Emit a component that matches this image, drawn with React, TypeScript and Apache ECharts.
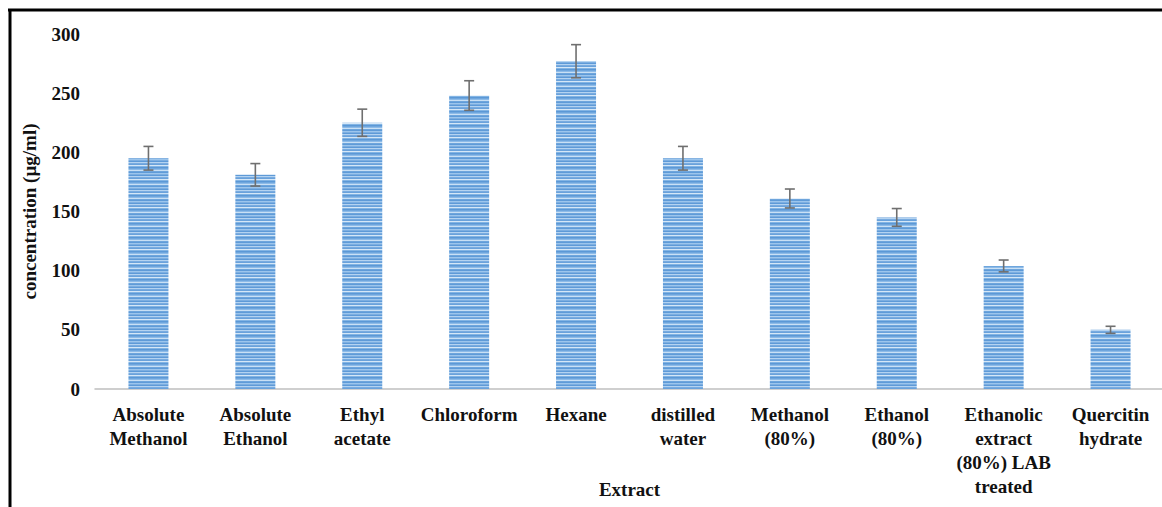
import React, { useEffect, useRef } from "react";
import * as echarts from "echarts";

const categories = [
  "Absolute\nMethanol",
  "Absolute\nEthanol",
  "Ethyl\nacetate",
  "Chloroform",
  "Hexane",
  "distilled\nwater",
  "Methanol\n(80%)",
  "Ethanol\n(80%)",
  "Ethanolic\nextract\n(80%) LAB\ntreated",
  "Quercitin\nhydrate",
];
const values = [195, 181, 225, 248, 277, 195, 161, 145, 104, 50];
const errors = [10, 9.5, 11.5, 12.5, 14, 10, 8, 7.5, 5, 3];
const yTicks = { min: 0, max: 300, interval: 50 };

function makePattern(): HTMLCanvasElement {
  const c = document.createElement("canvas");
  c.width = 4;
  c.height = 14;
  const ctx = c.getContext("2d")!;
  const rows = [
    "#6fa6dd", "#8dbbe8", "#c9e0f5", "#6ea5dc", "#5f9bd8", "#9cc5ec", "#7caee1",
    "#5e9ad7", "#b4d3f1", "#78abe0", "#6aa2db", "#d5e7f7", "#82b4e4", "#5b98d6",
  ];
  rows.forEach((col, i) => {
    ctx.fillStyle = col;
    ctx.fillRect(0, i, 4, 1);
  });
  return c;
}

export default function App() {
  const ref = useRef<HTMLDivElement>(null);
  useEffect(() => {
    const chart = echarts.init(ref.current!, undefined, { renderer: "svg" });
    const font = "'Liberation Serif', 'Times New Roman', serif";
    const pattern = makePattern();
    chart.setOption({
      animation: false,
      grid: { left: 95, right: -2, top: 34, bottom: 118, outerBoundsMode: "none", containLabel: false },
      xAxis: {
        type: "category",
        data: categories,
        axisLine: { lineStyle: { color: "#bfbfbf", width: 1.5 } },
        axisTick: { show: false },
        axisLabel: {
          interval: 0,
          color: "#111",
          fontFamily: font,
          fontWeight: "bold",
          fontSize: 19,
          lineHeight: 24,
          margin: 13,
        },
        name: "Extract",
        nameLocation: "middle",
        nameGap: 91,
        nameMoveOverlap: false,
        nameTextStyle: { color: "#111", fontFamily: font, fontWeight: "bold", fontSize: 19 },
      },
      yAxis: {
        type: "value",
        min: yTicks.min,
        max: yTicks.max,
        interval: yTicks.interval,
        splitLine: { show: false },
        axisLine: { show: false },
        axisTick: { show: false },
        axisLabel: {
          color: "#111",
          fontFamily: font,
          fontWeight: "bold",
          fontSize: 19,
          margin: 15,
        },
        name: "concentration (µg/ml)",
        nameLocation: "middle",
        nameRotate: 90,
        nameGap: 56,
        nameMoveOverlap: false,
        nameTextStyle: { color: "#111", fontFamily: font, fontWeight: "bold", fontSize: 19 },
      },
      series: [
        {
          type: "bar",
          data: values,
          barWidth: 40,
          itemStyle: { color: { image: pattern, repeat: "repeat" } as any },
        },
        {
          type: "custom",
          data: values.map((v, i) => [i, v - errors[i], v + errors[i]]),
          encode: { x: 0, y: [1, 2] },
          z: 10,
          renderItem: (params: any, api: any) => {
            const x = api.value(0);
            const lo = api.coord([x, api.value(1)]);
            const hi = api.coord([x, api.value(2)]);
            const hw = 5;
            const style = { stroke: "#6f6f6f", lineWidth: 1.6 };
            return {
              type: "group",
              children: [
                { type: "line", shape: { x1: lo[0], y1: lo[1], x2: hi[0], y2: hi[1] }, style },
                { type: "line", shape: { x1: hi[0] - hw, y1: hi[1], x2: hi[0] + hw, y2: hi[1] }, style },
                { type: "line", shape: { x1: lo[0] - hw, y1: lo[1], x2: lo[0] + hw, y2: lo[1] }, style },
              ],
            };
          },
        },
      ],
      graphic: [
        { type: "line", shape: { x1: 8, y1: 10, x2: 1162, y2: 10 }, style: { stroke: "#000", lineWidth: 3 } },
        { type: "line", shape: { x1: 10, y1: 9, x2: 10, y2: 507 }, style: { stroke: "#000", lineWidth: 3 } },
      ],
    });
    return () => chart.dispose();
  }, []);
  return (
    <div
      ref={ref}
      style={{ position: "absolute", left: 0, top: 0, width: 1162, height: 507, background: "#fff" }}
    />
  );
}
